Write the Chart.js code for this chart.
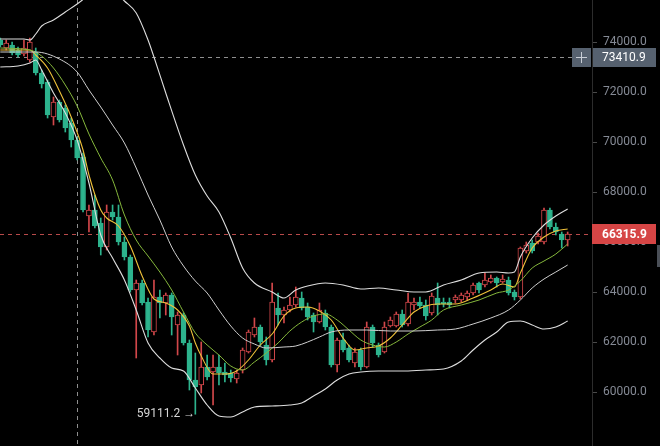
<!DOCTYPE html>
<html>
<head>
<meta charset="utf-8">
<script src="https://cdn.jsdelivr.net/npm/chart.js@4.4.1/dist/chart.umd.min.js"></script>
<style>
  html, body { margin: 0; padding: 0; background: #000; }
  #wrap { width: 660px; height: 446px; }
</style>
</head>
<body>
<div id="wrap"><canvas id="kline" width="660" height="446"></canvas></div>
<script>
// OHLC, one entry per candle
const opens = [
  74080, 73760, 73880, 73680, 73520, 73280, 73600, 72760, 72400, 71000,
  71600, 71360, 70760, 70080, 69400, 67040, 67280, 66760, 65800, 67200,
  67000, 66000, 65400, 64080, 64360, 63600, 62400, 63800, 63560, 63880,
  62680, 63080, 61960, 60480, 60280, 61000, 60800, 61000, 60800, 60760,
  60520, 60880, 61600, 62280, 62600, 61880, 61280, 63360, 63080, 63280,
  63480, 63760, 63400, 63080, 62800, 63160, 62600, 61080, 62080, 61760,
  61160, 61680, 61000, 62600, 61880, 61600, 62640, 62640, 63120, 62720,
  63480, 63600, 63480, 63160, 63760, 63600, 63600, 63680, 63680, 63800,
  63960, 64360, 64280, 64400, 64560, 64400, 64480, 64000, 63800, 65640,
  65960, 66000, 66000, 67280, 66600, 66320, 66080
];
const closes = [
  73880, 73960, 73560, 73480, 73760, 74000, 72760, 72320, 71080, 71600,
  70880, 70560, 70080, 69360, 67280, 67280, 66640, 65800, 67200, 67000,
  66000, 65400, 64080, 64360, 63560, 62480, 63800, 63560, 63880, 63000,
  63080, 61960, 60480, 60200, 61000, 60600, 61000, 60760, 60680, 60560,
  60760, 61680, 62400, 62600, 62000, 61280, 63600, 63080, 63280, 63480,
  63800, 63360, 63000, 62800, 63280, 62600, 61080, 62080, 61680, 61280,
  61600, 61000, 62600, 61960, 61480, 62600, 62880, 63120, 62680, 63600,
  63600, 63440, 63040, 63840, 63480, 63520, 63480, 63800, 63880, 63960,
  64280, 64080, 64480, 64560, 64360, 64520, 63960, 63800, 65760, 65880,
  65640, 66240, 67280, 66600, 66400, 66080, 66315.9
];
const highs = [
  74160, 74080, 74000, 73800, 74080, 74160, 73760, 72880, 72480, 71800,
  71680, 71480, 70960, 70200, 69560, 67480, 67880, 66960, 67480, 67480,
  67480, 66200, 65480, 64480, 64480, 63760, 64480, 64080, 63960, 63960,
  63200, 63160, 62080, 61560, 62000, 61480, 61480, 61480, 61160, 60880,
  60880, 61760, 62480, 62960, 62680, 62200, 64360, 63960, 63400, 63800,
  64200, 64000, 63560, 63160, 63560, 63280, 62680, 62160, 62360, 61880,
  61760, 61760, 62800, 62680, 61960, 62800, 63000, 63200, 63280, 63960,
  63760, 63800, 63680, 63960, 64360, 63760, 63760, 63880, 63960, 64040,
  64360, 64400, 64760, 64680, 64600, 64680, 64600, 64080, 65800, 66000,
  66080, 66360, 67360, 67360, 66760, 66400, 66400
];
const lows = [
  73800, 73680, 73480, 73400, 73440, 73200, 72680, 72160, 70960, 70680,
  70800, 70400, 69800, 69280, 67200, 66400, 66560, 65480, 65680, 66880,
  65880, 65280, 64000, 61360, 63480, 62200, 62280, 62960, 63080, 62280,
  61480, 61880, 60080, 59111.2, 59960, 60480, 59480, 60280, 60400, 60400,
  60360, 60760, 61560, 62200, 61840, 61080, 61200, 62680, 62760, 63200,
  63400, 63280, 62880, 62400, 62760, 62480, 61000, 60800, 61600, 61200,
  61000, 60880, 60960, 61800, 61400, 61560, 62600, 62600, 62600, 62640,
  63280, 63360, 62880, 63080, 63080, 63400, 63360, 63560, 63600, 63680,
  63880, 63960, 64200, 64360, 64200, 64360, 63880, 63680, 63720, 65560,
  65560, 65920, 65920, 66520, 66280, 65760, 65840
];

// indicator lines, [candle index, price]
const bollUpper = [
  [0, 74120], [4, 74120], [5, 74080], [6, 74320], [7, 74640], [9, 74880],
  [11, 75200], [13, 75520], [15, 75880], [17, 76160], [19, 76080], [21, 75640],
  [23, 75160], [25, 74080], [26, 73400], [28, 71960], [31, 69880], [33, 68680],
  [35, 67840], [37, 67200], [39, 66160], [41, 64960], [43, 64360], [46, 64000],
  [48, 63760], [50, 64080], [52, 64240], [55, 64360], [58, 64280], [61, 64120],
  [64, 64160], [67, 64080], [70, 64000], [72, 64000], [75, 64280], [78, 64480],
  [81, 64760], [84, 64800], [86, 64760], [87, 64800], [88, 65400], [90, 66160],
  [92, 66680], [94, 67040], [96, 67320]
];
const bollMid = [
  [0, 73600], [3, 73600], [6, 73600], [10, 73320], [13, 72800], [15, 72080],
  [17, 71400], [19, 70680], [21, 69960], [23, 68960], [25, 67880], [27, 66880],
  [29, 65800], [31, 65040], [33, 64440], [35, 63960], [37, 63280], [39, 62640],
  [41, 62160], [43, 61920], [45, 61760], [48, 61800], [50, 61840], [52, 62000],
  [54, 62200], [56, 62400], [59, 62480], [62, 62480], [66, 62440], [70, 62440],
  [74, 62480], [77, 62520], [80, 62720], [83, 62960], [86, 63280], [88, 63680],
  [90, 64160], [92, 64520], [94, 64800], [96, 65080]
];
const bollLower = [
  [0, 73000], [3, 73040], [5, 73160], [6, 73280], [7, 72880], [9, 71960],
  [11, 71160], [13, 70080], [15, 68360], [17, 66280], [19, 65360], [21, 64480],
  [23, 63280], [25, 61960], [27, 61360], [29, 60960], [31, 60840], [33, 60160],
  [35, 59480], [37, 59040], [39, 59000], [41, 59200], [43, 59400], [46, 59440],
  [49, 59480], [51, 59560], [53, 59840], [55, 60120], [57, 60480], [59, 60720],
  [61, 60800], [64, 60840], [68, 60840], [72, 60880], [75, 60920], [78, 61240],
  [80, 61680], [82, 62080], [84, 62400], [86, 62800], [88, 62840], [90, 62680],
  [92, 62520], [94, 62600], [96, 62840]
];
const maFast = [
  [0, 73680], [5, 73680], [6, 73480], [8, 72960], [10, 72040], [12, 71000],
  [14, 69680], [15, 68680], [17, 67280], [18, 66960], [20, 66640], [22, 65840],
  [24, 64640], [26, 63720], [28, 63560], [30, 63280], [32, 62640], [33, 61960],
  [34, 61440], [36, 60720], [38, 60720], [40, 60840], [42, 61280], [44, 61880],
  [46, 62320], [48, 63040], [50, 63360], [52, 63400], [54, 63240], [56, 62880],
  [58, 62160], [60, 61680], [62, 61760], [64, 61840], [66, 62160], [68, 62680],
  [70, 63200], [72, 63440], [74, 63520], [77, 63520], [80, 63760], [83, 64080],
  [85, 64320], [87, 64200], [88, 64760], [90, 65760], [92, 66200], [94, 66440],
  [96, 66520]
];
const maSlow = [
  [0, 73760], [5, 73680], [7, 73440], [9, 72960], [11, 72280], [13, 71440],
  [15, 70320], [17, 69360], [19, 68480], [21, 67080], [23, 66080], [25, 65440],
  [27, 64800], [29, 64080], [31, 63200], [33, 62360], [35, 61880], [37, 61480],
  [39, 61040], [41, 60880], [43, 61200], [45, 61560], [47, 61960], [49, 62440],
  [51, 62800], [53, 63040], [55, 63120], [57, 62880], [59, 62480], [61, 62080],
  [63, 61880], [65, 61800], [67, 62000], [69, 62320], [71, 62600], [73, 62880],
  [75, 63280], [78, 63480], [81, 63680], [84, 63960], [86, 64080], [88, 64440],
  [90, 64960], [92, 65240], [94, 65520], [96, 65920]
];

const yTicks = [60000, 62000, 64000, 66000, 68000, 70000, 72000, 74000];
const lastPrice = 66315.9;
const crossPrice = 73410.9;
const crossIndex = 13;
const lowIndex = 33;
const lowPrice = 59111.2;

const UP = '#d2474a';
const DOWN = '#2db38d';

const isUp = opens.map((o, i) => closes[i] >= o);
const toPts = arr => arr.map(p => ({ x: p[0], y: p[1] }));

function lineSet(pts, color, width) {
  return {
    type: 'line',
    data: toPts(pts),
    borderColor: color,
    borderWidth: width,
    pointRadius: 0,
    cubicInterpolationMode: 'monotone',
    order: 0
  };
}

// dashed price / crosshair lines under the candles, tags on top
const overlays = {
  id: 'overlays',
  beforeDatasetsDraw(chart) {
    const { ctx, chartArea, scales } = chart;
    const y = scales.y;
    ctx.save();
    ctx.lineWidth = 1;
    ctx.setLineDash([4, 4]);

    ctx.strokeStyle = '#b84a4a';
    const py = Math.round(y.getPixelForValue(lastPrice)) + 0.5;
    ctx.beginPath();
    ctx.moveTo(chartArea.left, py);
    ctx.lineTo(chartArea.right, py);
    ctx.stroke();

    ctx.strokeStyle = '#8f8f8f';
    const cy = Math.round(y.getPixelForValue(crossPrice)) + 0.5;
    ctx.beginPath();
    ctx.moveTo(chartArea.left, cy);
    ctx.lineTo(chartArea.right - 20, cy);
    ctx.stroke();
    const cx = Math.round(scales.x.getPixelForValue(crossIndex)) + 0.5;
    ctx.beginPath();
    ctx.moveTo(cx, chartArea.top);
    ctx.lineTo(cx, chartArea.bottom);
    ctx.stroke();
    ctx.restore();
  },
  afterDraw(chart) {
    const { ctx, chartArea, scales } = chart;
    const y = scales.y;
    const right = chartArea.right;
    ctx.save();
    ctx.textBaseline = 'middle';

    // crosshair tag
    const cy = Math.round(y.getPixelForValue(crossPrice));
    ctx.fillStyle = '#56616f';
    ctx.fillRect(right - 20, cy - 9, 19, 19);
    ctx.fillRect(right + 1, cy - 9, 63, 19);
    ctx.strokeStyle = '#c9ced6';
    ctx.lineWidth = 1;
    ctx.beginPath();
    ctx.moveTo(right - 16, cy + 0.5);
    ctx.lineTo(right - 5, cy + 0.5);
    ctx.moveTo(right - 10.5, cy - 5);
    ctx.lineTo(right - 10.5, cy + 6);
    ctx.stroke();
    ctx.fillStyle = '#ffffff';
    ctx.font = '12px Roboto, "Liberation Sans", sans-serif';
    ctx.fillText(crossPrice.toFixed(1), right + 10, cy + 1);

    // last price tag
    const py = Math.round(y.getPixelForValue(lastPrice));
    ctx.fillStyle = '#d64545';
    ctx.fillRect(right, py - 10, 64, 20);
    ctx.fillStyle = '#ffffff';
    ctx.font = 'bold 12px Roboto, "Liberation Sans", sans-serif';
    ctx.fillText(lastPrice.toFixed(1), right + 10, py + 1);
    ctx.fillStyle = '#4a4f57';
    ctx.fillRect(right + 65, py + 11, 3, 22);

    // lowest price marker
    const lx = scales.x.getPixelForValue(lowIndex);
    const ly = y.getPixelForValue(lowPrice);
    ctx.fillStyle = '#d6d6d6';
    ctx.font = '12px Roboto, "Liberation Sans", sans-serif';
    ctx.textAlign = 'right';
    ctx.fillText(lowPrice.toFixed(1) + ' \u2192', lx, ly);
    ctx.restore();
  }
};

const ctx = document.getElementById('kline');

new Chart(ctx, {
  type: 'bar',
  data: {
    datasets: [
      lineSet(bollUpper, '#dedede', 1.1),
      lineSet(bollMid, '#cfcfcf', 1),
      lineSet(bollLower, '#dedede', 1.1),
      lineSet(maSlow, '#86b83c', 1),
      lineSet(maFast, '#f0c23a', 1.1),
      {
        // candle bodies, red ones hollow
        data: opens.map((o, i) => ({ x: i, y: [o, closes[i]] })),
        backgroundColor: isUp.map(u => u ? '#000000' : DOWN),
        borderColor: isUp.map(u => u ? UP : DOWN),
        borderWidth: 1,
        borderSkipped: false,
        barThickness: 5,
        grouped: false,
        order: 1
      },
      {
        // wicks
        data: lows.map((l, i) => ({ x: i, y: [l, highs[i]] })),
        backgroundColor: isUp.map(u => u ? UP : DOWN),
        barThickness: 1,
        grouped: false,
        order: 2
      }
    ]
  },
  options: {
    responsive: false,
    devicePixelRatio: 1,
    animation: false,
    layout: { padding: 0 },
    plugins: {
      legend: { display: false },
      tooltip: { enabled: false }
    },
    scales: {
      x: {
        type: 'linear',
        min: -0.05,
        max: 100.12,
        offset: false,
        display: false,
        grid: { offset: false }
      },
      y: {
        type: 'linear',
        position: 'right',
        min: 57840,
        max: 75680,
        beginAtZero: false,
        afterBuildTicks: function(scale) {
          scale.ticks = yTicks.map(v => ({ value: v }));
        },
        afterFit: function(scale) {
          scale.width = 68;
          scale.paddingTop = 0;
          scale.paddingBottom = 0;
        },
        grid: {
          drawOnChartArea: false,
          drawTicks: true,
          tickLength: 5,
          color: '#4a4a4a'
        },
        border: { display: true, color: '#2c2c2c' },
        ticks: {
          color: '#858a95',
          padding: 6,
          font: { family: 'Roboto, "Liberation Sans", sans-serif', size: 12 },
          callback: function(value) {
            return value.toFixed(1);
          }
        }
      }
    }
  },
  plugins: [overlays]
});
</script>
</body>
</html>
